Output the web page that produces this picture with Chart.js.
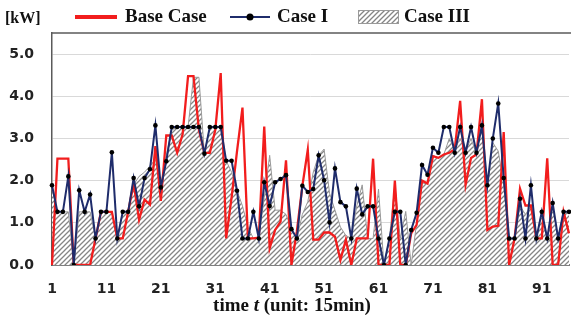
<!DOCTYPE html>
<html>
<head>
<meta charset="utf-8">
<script src="https://cdn.jsdelivr.net/npm/chart.js@4.4.1/dist/chart.umd.min.js"></script>
<style>
  html, body { margin: 0; padding: 0; background: #fff; overflow: hidden; width: 571px; height: 320px; }
  #wrap { position: relative; width: 585px; height: 320px; }
</style>
</head>
<body>
<div id="wrap"><canvas id="chart"></canvas></div>
<script>
// time slots 1..96 (15 min each)
const times = Array.from({ length: 96 }, (_, i) => i + 1);
const xTickLabels = ['1', '11', '21', '31', '41', '51', '61', '71', '81', '91'];
const yTicks = [0, 1, 2, 3, 4, 5];

const baseCase = [
  0, 2.52, 2.52, 2.52, 0, 0, 0, 0, 0.63, 1.26,
  1.26, 1.26, 0.63, 0.63, 1.26, 1.94, 1.07, 1.55, 1.43, 2.82,
  1.52, 3.07, 3.07, 2.66, 3.10, 4.48, 4.48, 3.20, 2.66, 2.66,
  3.20, 4.55, 0.63, 1.60, 2.70, 3.73, 0.63, 0.63, 0.65, 3.28,
  0.40, 0.83, 1.03, 2.48, 0, 0.80, 1.87, 2.73, 0.60, 0.60,
  0.77, 0.77, 0.67, 0.12, 0.60, 0, 0.63, 0.63, 0.63, 2.52,
  0, 0, 0, 2.00, 0, 0, 0.75, 0.95, 2.00, 1.93,
  2.58, 2.54, 2.62, 2.66, 2.74, 3.89, 1.90, 2.54, 2.62, 3.93,
  0.83, 0.91, 0.93, 3.15, 0, 0.63, 1.81, 1.41, 1.41, 0.63,
  0.63, 2.53, 0, 0, 1.26, 0.75
];

const caseI = [
  1.89, 1.26, 1.26, 2.10, 0, 1.77, 1.26, 1.67, 0.63, 1.26,
  1.26, 2.67, 0.63, 1.26, 1.26, 2.06, 1.39, 2.06, 2.27, 3.31,
  1.84, 2.46, 3.27, 3.27, 3.27, 3.27, 3.27, 3.27, 2.64, 3.27,
  3.27, 3.27, 2.47, 2.47, 1.76, 0.63, 0.63, 1.26, 0.63, 1.96,
  1.40, 1.96, 2.04, 2.13, 0.85, 0.63, 1.88, 1.73, 1.80, 2.60,
  2.01, 1.01, 2.29, 1.49, 1.39, 0.63, 1.81, 1.20, 1.39, 1.39,
  0.63, 0, 0.63, 1.26, 1.26, 0, 0.83, 1.24, 2.37, 2.14,
  2.78, 2.66, 3.27, 3.27, 2.66, 3.27, 2.66, 3.27, 2.66, 3.31,
  1.89, 3.00, 3.83, 2.06, 0.63, 0.63, 1.57, 0.63, 1.89, 0.63,
  1.26, 0.63, 1.47, 0.63, 1.26, 1.26
];

const caseIII = [
  1.80, 1.26, 1.26, 1.26, 0, 1.26, 1.26, 1.26, 0.63, 1.26,
  1.26, 1.26, 0.63, 1.26, 1.26, 1.90, 2.10, 2.20, 2.35, 2.50,
  1.90, 2.60, 3.20, 3.27, 3.27, 3.27, 4.45, 4.45, 2.64, 3.27,
  3.27, 3.27, 2.47, 2.20, 1.76, 1.40, 0.90, 0.63, 0.63, 1.60,
  2.60, 1.30, 1.30, 1.20, 0.85, 0.63, 1.20, 1.50, 2.20, 2.60,
  2.75, 1.70, 1.30, 0.90, 0.70, 0.63, 1.40, 1.90, 0.63, 0.63,
  1.80, 0, 0.63, 1.90, 0.63, 1.27, 0, 1.00, 1.94, 1.93,
  2.60, 2.54, 2.62, 3.00, 2.74, 3.00, 2.70, 3.00, 2.62, 3.30,
  1.80, 2.90, 2.70, 1.90, 0.63, 0.63, 1.40, 1.20, 1.40, 0.63,
  1.26, 0.63, 1.40, 0.63, 1.26, 1.26
];

const RED = '#f21d1d';
const NAVY = '#1f2c6b';
const HATCH_LINE = '#858585';

const canvas = document.getElementById('chart');
const ctx = canvas.getContext('2d');

function makeHatch() {
  const size = 5;
  const c = document.createElement('canvas');
  c.width = size; c.height = size;
  const g = c.getContext('2d');
  g.fillStyle = '#ffffff';
  g.fillRect(0, 0, size, size);
  g.strokeStyle = HATCH_LINE;
  g.lineWidth = 1.3;
  g.beginPath();
  g.moveTo(0, size); g.lineTo(size, 0);
  g.moveTo(-1, 1); g.lineTo(1, -1);
  g.moveTo(size - 1, size + 1); g.lineTo(size + 1, size - 1);
  g.stroke();
  return ctx.createPattern(c, 'repeat');
}
const hatch = makeHatch();

// frame, legend, unit label and axis title
const decor = {
  id: 'decor',
  afterDraw(chart) {
    const c = chart.ctx;
    const a = chart.chartArea;
    c.save();

    // top frame line
    c.strokeStyle = '#5a5a5a';
    c.lineWidth = 1.5;
    c.beginPath();
    c.moveTo(a.left, a.top);
    c.lineTo(a.right + 2, a.top);
    c.stroke();

    c.fillStyle = '#111';
    c.textBaseline = 'middle';

    c.font = 'bold 16px "Liberation Serif", "Times New Roman", serif';
    c.fillText('[kW]', 5, 19);

    const ly = 17;
    c.font = 'bold 19px "Liberation Serif", "Times New Roman", serif';

    // Base Case
    c.strokeStyle = RED;
    c.lineWidth = 4;
    c.beginPath(); c.moveTo(75, ly); c.lineTo(117, ly); c.stroke();
    c.fillText('Base Case', 125, ly);

    // Case I
    c.strokeStyle = NAVY;
    c.lineWidth = 2;
    c.beginPath(); c.moveTo(230, ly); c.lineTo(270, ly); c.stroke();
    c.fillStyle = '#000';
    c.beginPath(); c.arc(250, ly, 3.5, 0, Math.PI * 2); c.fill();
    c.fillStyle = '#111';
    c.fillText('Case I', 277, ly);

    // Case III
    c.fillStyle = hatch;
    c.fillRect(358, 10, 40, 13);
    c.strokeStyle = '#9a9a9a';
    c.lineWidth = 1;
    c.strokeRect(358.5, 10.5, 40, 13);
    c.fillStyle = '#111';
    c.fillText('Case III', 404, ly);

    // x title with italic t
    const parts = [
      { t: 'time ', f: 'bold 19px "Liberation Serif", serif' },
      { t: 't', f: 'italic bold 19px "Liberation Serif", serif' },
      { t: ' (unit: 15min)', f: 'bold 19px "Liberation Serif", serif' }
    ];
    let total = 0;
    parts.forEach(p => { c.font = p.f; p.w = c.measureText(p.t).width; total += p.w; });
    let x = 292 - total / 2;
    parts.forEach(p => { c.font = p.f; c.fillText(p.t, x, 306); x += p.w; });

    c.restore();
  }
};

new Chart(ctx, {
  type: 'line',
  data: {
    labels: times,
    datasets: [
      {
        label: 'Base Case',
        data: baseCase,
        borderColor: RED,
        borderWidth: 2.3,
        pointRadius: 0,
        fill: false,
        tension: 0,
        order: 1
      },
      {
        label: 'Case I',
        data: caseI,
        borderColor: NAVY,
        borderWidth: 2,
        pointRadius: 2.3,
        pointBackgroundColor: '#000',
        pointBorderColor: '#000',
        pointBorderWidth: 0,
        fill: false,
        tension: 0,
        order: 0
      },
      {
        label: 'Case III',
        data: caseIII,
        borderColor: '#9a9a9a',
        borderWidth: 1,
        backgroundColor: hatch,
        pointRadius: 0,
        fill: 'origin',
        tension: 0,
        order: 2
      }
    ]
  },
  options: {
    responsive: true,
    maintainAspectRatio: false,
    animation: false,
    layout: { padding: { top: 33, right: 0, left: 0, bottom: 0 } },
    plugins: { legend: { display: false }, tooltip: { enabled: false } },
    scales: {
      x: {
        type: 'category',
        offset: false,
        grid: { display: false, drawTicks: false },
        border: { color: '#7f7f7f', width: 2 },
        ticks: {
          autoSkip: false,
          maxRotation: 0,
          padding: 16,
          color: '#222',
          font: { family: '"DejaVu Sans", sans-serif', weight: 'bold', size: 14 },
          callback: function (v) {
            const s = String(this.getLabelForValue(v));
            return xTickLabels.includes(s) ? s : '';
          }
        },
        afterFit: s => { s.height = 55; }
      },
      y: {
        min: 0,
        max: 5.5,
        grid: { color: '#d9d9d9', lineWidth: 1, drawTicks: false },
        border: { color: '#5a5a5a', width: 1.5 },
        afterBuildTicks: s => { s.ticks = yTicks.map(v => ({ value: v })); },
        ticks: {
          padding: 18,
          color: '#222',
          font: { family: '"DejaVu Sans", sans-serif', weight: 'bold', size: 14 },
          callback: v => v.toFixed(1)
        },
        afterFit: s => { s.width = 52; }
      }
    }
  },
  plugins: [decor]
});
</script>
</body>
</html>
